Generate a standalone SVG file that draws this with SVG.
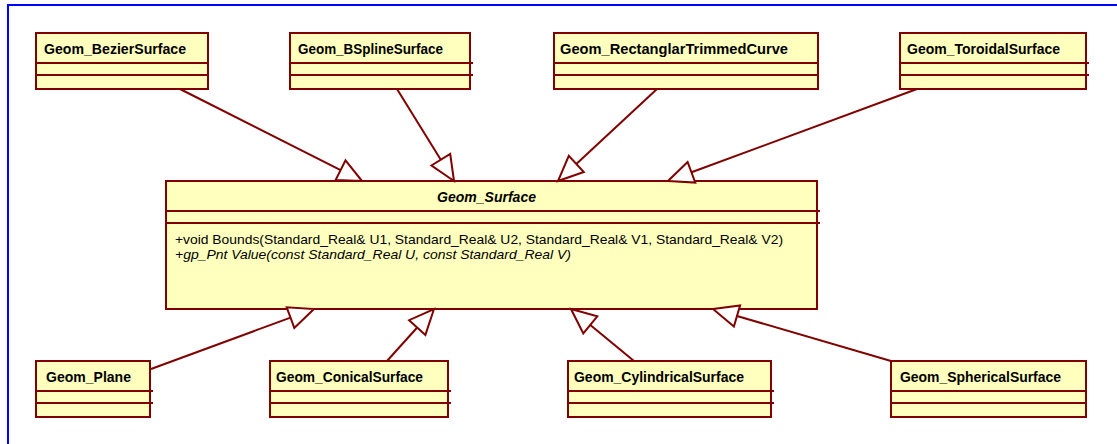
<svg xmlns="http://www.w3.org/2000/svg" width="1117" height="444" viewBox="0 0 1117 444">
  <style>
    .box { fill: #ffffbe; stroke: #800000; stroke-width: 2; }
    .div { stroke: #800000; stroke-width: 2; fill: none; }
    .name { font-family: "Liberation Sans", Arial, sans-serif; font-weight: bold; font-size: 14px; fill: #000; }
    .abs { font-style: italic; }
    .op { font-family: "Liberation Sans", Arial, sans-serif; font-size: 13.5px; fill: #000; }
    .opi { font-style: italic; }
    .edge { stroke: #800000; stroke-width: 2; fill: none; }
    .head { fill: #ffffff; stroke: #800000; stroke-width: 2; stroke-linejoin: miter; }
  </style>

  <rect width="1117" height="444" fill="#ffffff"/>
  <!-- frame -->
  <path d="M8,444 V5 H1117" fill="none" stroke="#0000ff" stroke-width="2"/>

  <!-- subclasses, top row -->
  <g id="Geom_BezierSurface">
    <rect class="box" x="36" y="33" width="172" height="56"/>
    <path class="div" d="M36,63 H208 M36,75 H208"/>
    <text class="name" x="44" y="54" textLength="142" lengthAdjust="spacingAndGlyphs">Geom_BezierSurface</text>
  </g>
  <g id="Geom_BSplineSurface">
    <rect class="box" x="290" y="33" width="180" height="56"/>
    <path class="div" d="M290,63 H473 M290,75 H473"/>
    <text class="name" x="298" y="54" textLength="145" lengthAdjust="spacingAndGlyphs">Geom_BSplineSurface</text>
  </g>
  <g id="Geom_RectanglarTrimmedCurve">
    <rect class="box" x="554" y="33" width="264" height="56"/>
    <path class="div" d="M554,63 H818 M554,75 H818"/>
    <text class="name" x="560" y="54" textLength="228" lengthAdjust="spacingAndGlyphs">Geom_RectanglarTrimmedCurve</text>
  </g>
  <g id="Geom_ToroidalSurface">
    <rect class="box" x="900" y="33" width="186" height="56"/>
    <path class="div" d="M900,63 H1089 M900,75 H1089"/>
    <text class="name" x="907" y="54" textLength="153" lengthAdjust="spacingAndGlyphs">Geom_ToroidalSurface</text>
  </g>

  <!-- abstract base class -->
  <g id="Geom_Surface">
    <rect class="box" x="166" y="181" width="651" height="128"/>
    <path class="div" d="M166,211 H820 M166,223 H820"/>
    <text class="name abs" x="437" y="202" textLength="99" lengthAdjust="spacingAndGlyphs">Geom_Surface</text>
    <text class="op" x="175" y="244" textLength="608" lengthAdjust="spacingAndGlyphs">+void Bounds(Standard_Real&amp; U1, Standard_Real&amp; U2, Standard_Real&amp; V1, Standard_Real&amp; V2)</text>
    <text class="op opi" x="175" y="259" textLength="396" lengthAdjust="spacingAndGlyphs">+gp_Pnt Value(const Standard_Real U, const Standard_Real V)</text>
  </g>

  <!-- subclasses, bottom row -->
  <g id="Geom_Plane">
    <rect class="box" x="36" y="361" width="114" height="56"/>
    <path class="div" d="M36,391 H153 M36,403 H153"/>
    <text class="name" x="46" y="382" textLength="85" lengthAdjust="spacingAndGlyphs">Geom_Plane</text>
  </g>
  <g id="Geom_ConicalSurface">
    <rect class="box" x="270" y="361" width="178" height="56"/>
    <path class="div" d="M270,391 H451 M270,403 H451"/>
    <text class="name" x="276" y="382" textLength="147" lengthAdjust="spacingAndGlyphs">Geom_ConicalSurface</text>
  </g>
  <g id="Geom_CylindricalSurface">
    <rect class="box" x="568" y="361" width="203" height="56"/>
    <path class="div" d="M568,391 H774 M568,403 H774"/>
    <text class="name" x="574" y="382" textLength="170" lengthAdjust="spacingAndGlyphs">Geom_CylindricalSurface</text>
  </g>
  <g id="Geom_SphericalSurface">
    <rect class="box" x="891" y="361" width="195" height="56"/>
    <path class="div" d="M891,391 H1086 M891,403 H1086"/>
    <text class="name" x="900" y="382" textLength="161" lengthAdjust="spacingAndGlyphs">Geom_SphericalSurface</text>
  </g>

  <!-- generalization connectors -->
  <g id="connectors">
    <line class="edge" x1="180" y1="89" x2="340.6" y2="170.2"/>
    <polygon class="head" points="362,181 335.6,180 345.5,160.4"/>

    <line class="edge" x1="397" y1="89" x2="440.8" y2="159.7"/>
    <polygon class="head" points="454,181 431.5,165.5 450.2,153.9"/>

    <line class="edge" x1="657" y1="89" x2="576.3" y2="164"/>
    <polygon class="head" points="558,181 583.8,172 568.8,155.9"/>

    <line class="edge" x1="917" y1="89" x2="691.5" y2="172.3"/>
    <polygon class="head" points="668,181 695.3,182.6 687.6,162"/>

    <line class="edge" x1="151" y1="369" x2="290.5" y2="317.6"/>
    <polygon class="head" points="314,309 294.3,327.9 286.7,307.3"/>

    <line class="edge" x1="387" y1="361" x2="417.2" y2="327.5"/>
    <polygon class="head" points="434,309 425.4,334.9 409.1,320.2"/>

    <line class="edge" x1="634" y1="361" x2="590.3" y2="324.9"/>
    <polygon class="head" points="571,309 597.3,316.4 583.3,333.4"/>

    <line class="edge" x1="891" y1="361" x2="737" y2="316"/>
    <polygon class="head" points="713,309 740.1,305.4 733.9,326.6"/>
  </g>
</svg>
